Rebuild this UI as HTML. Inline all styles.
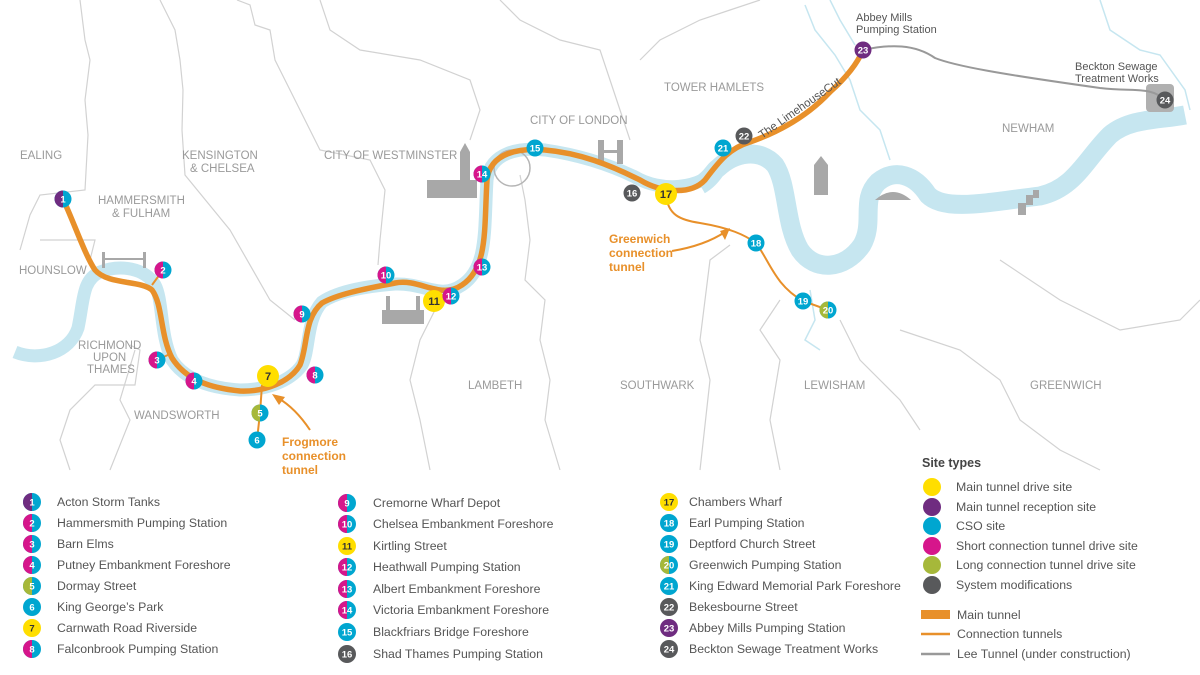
<!DOCTYPE html>
<html><head><meta charset="utf-8"><style>
html,body{margin:0;padding:0;background:#fff}
svg{display:block;font-family:"Liberation Sans",sans-serif}
.b{fill:#9a9a9a;font-size:11.5px}
.m text{fill:#fff;font-size:9.5px;font-weight:bold;text-anchor:middle}
.m text.d{fill:#333}
.l{fill:#555;font-size:12.3px}
.o{fill:#e8902a;font-size:12px;font-weight:bold}
</style></head><body>
<svg width="1200" height="675" viewBox="0 0 1200 675">
<g fill="none" stroke="#d2d2d2" stroke-width="1.2">
<path d="M80,0 L85,40 L90,60 L85,100 L88,135 L85,190 L40,195 L30,215 L20,250"/>
<path d="M40,240 L95,240 L90,260"/>
<path d="M160,0 L175,30 L180,60 L183,90 L182,130 L185,175 L230,230 L270,300 L295,320"/>
<path d="M237,0 L250,5 L255,25 L270,30 L275,60 L290,90 L305,120 L320,150 L370,160 L385,190 L380,240 L378,265"/>
<path d="M130,345 L140,350 L135,385 L95,385 L70,410 L60,440 L70,470"/>
<path d="M135,350 L120,400 L130,420 L110,470"/>
<path d="M320,0 L330,30 L360,50 L420,60 L470,80 L480,110 L470,140"/>
<path d="M500,0 L520,20 L560,40 L600,50 L610,80 L620,110 L630,140"/>
<path d="M520,175 L525,200 L530,240 L525,280 L545,300 L540,340 L550,380 L545,420 L560,470"/>
<path d="M435,310 L420,340 L410,380 L420,420 L430,470"/>
<path d="M730,245 L710,260 L705,300 L700,340 L710,380 L700,470"/>
<path d="M780,300 L760,330 L780,360 L770,420 L780,470"/>
<path d="M840,320 L860,360 L900,400 L920,430"/>
<path d="M1000,260 L1060,300 L1120,330 L1180,320 L1200,300"/>
<path d="M640,60 L660,40 L700,20 L730,10 L760,0"/>
<path d="M900,330 L960,350 L1000,380 L1020,420 L1060,450 L1100,470"/>
</g>
<g fill="none" stroke="#c6e6f0" stroke-width="1.5">
<path d="M805,5 L815,30 L835,55 L850,80 L860,110 L880,130 L890,160"/>
<path d="M830,0 L840,20 L855,45"/>
<path d="M1100,0 L1110,30 L1140,50 L1160,55 L1185,90 L1190,110"/>
<path d="M810,290 L815,320 L805,340 L820,350"/>
</g>
<path d="M15,352 C40,362 70,352 78,328 C84,300 82,280 100,272 C120,264 145,268 155,285 C163,300 160,335 172,360 C185,380 210,388 240,390 C265,390 290,382 302,365 C310,350 306,320 322,302 C340,290 370,286 395,284 C425,283 440,300 462,285 C488,268 484,230 487,180 C490,152 520,147 545,150 C580,155 610,165 635,177 C660,192 700,190 718,168" fill="none" stroke="#c6e6f0" stroke-width="13" stroke-linejoin="round"/>
<path d="M700,185 C712,178 714,170 718,168 C735,152 760,148 775,165 C788,185 785,225 800,250 C815,272 845,270 862,245 C875,222 860,200 878,182 C895,168 915,175 928,195 C945,212 990,202 1040,196 C1075,188 1085,160 1110,135 C1130,118 1160,120 1185,115" fill="none" stroke="#c6e6f0" stroke-width="19" stroke-linejoin="round"/>
<g fill="#a8a8a8">
<rect x="427" y="180" width="50" height="18"/><rect x="460" y="152" width="10" height="46"/><polygon points="460,152 465,143 470,152"/>
<rect x="382" y="310" width="42" height="14"/><rect x="386" y="296" width="4" height="16"/><rect x="416" y="296" width="4" height="16"/>
<rect x="814" y="165" width="14" height="30"/><polygon points="814,165 821,156 828,165"/>
<path d="M875,200 Q893,184 911,200 Z"/>
<rect x="1018" y="203" width="8" height="12"/><rect x="1026" y="195" width="7" height="10"/><rect x="1033" y="190" width="6" height="8"/>
<rect x="1146" y="84" width="28" height="28" rx="4" fill="#b0b0b0"/>
<rect x="598" y="140" width="6" height="24"/><rect x="617" y="140" width="6" height="24"/><rect x="598" y="150" width="25" height="3"/>
<rect x="102" y="252" width="3" height="16"/><rect x="143" y="252" width="3" height="16"/><rect x="102" y="258" width="44" height="2"/>
</g>
<circle cx="512" cy="168" r="18" fill="none" stroke="#b5b5b5" stroke-width="1.5"/>
<g class="b">
<text x="20" y="159">EALING</text>
<text x="98" y="204">HAMMERSMITH</text><text x="112" y="217">&amp; FULHAM</text>
<text x="182" y="159">KENSINGTON</text><text x="190" y="172">&amp; CHELSEA</text>
<text x="324" y="159">CITY OF WESTMINSTER</text>
<text x="530" y="124">CITY OF LONDON</text>
<text x="664" y="91">TOWER HAMLETS</text>
<text x="1002" y="132">NEWHAM</text>
<text x="19" y="274">HOUNSLOW</text>
<text x="78" y="349">RICHMOND</text><text x="93" y="361">UPON</text><text x="87" y="373">THAMES</text>
<text x="134" y="419">WANDSWORTH</text>
<text x="468" y="389">LAMBETH</text>
<text x="620" y="389">SOUTHWARK</text>
<text x="804" y="389">LEWISHAM</text>
<text x="1030" y="389">GREENWICH</text>
</g>
<path d="M863,50 C890,44 915,44 935,58 C955,66 1000,74 1100,88 C1135,92 1150,86 1165,100" fill="none" stroke="#999" stroke-width="2"/>
<g fill="none" stroke="#e8902a" stroke-width="2">
<path d="M262,385 L260,413 L257,440"/>
<path d="M666,195 C668,215 680,220 700,223 C730,228 745,235 756,243 C770,262 775,285 803,301 L828,310"/>
<path d="M152,285 L163,270"/><path d="M157,360 L170,354"/>
</g>
<g fill="none" stroke="#e8902a" stroke-width="2">
<path d="M310,430 C300,415 290,405 278,398"/>
<path d="M672,251 C690,248 710,242 725,232"/>
</g>
<polygon points="272,394 285,397 279,405" fill="#e8902a"/>
<polygon points="730,228 720,231 725,240" fill="#e8902a"/>
<path d="M63,199 C75,225 85,255 95,270 C108,285 140,280 152,290 C163,305 160,335 172,358 C186,380 210,388 240,391 C265,392 290,382 300,365 C308,345 304,318 322,303 C340,293 370,288 395,283 C420,278 440,300 462,285 C488,268 484,230 487,180 C490,152 520,148 545,150 C580,153 610,165 640,180 C660,192 690,196 705,180 C720,160 730,148 750,142 C790,128 815,108 830,92 C848,76 858,62 863,50" fill="none" stroke="#e8902a" stroke-width="5.5" stroke-linejoin="round" stroke-linecap="round"/>
<text transform="translate(762,139) rotate(-35)" style="fill:#555;font-size:11.5px">The LimehouseCut</text>
<g class="o">
<text x="282" y="446">Frogmore</text><text x="282" y="460">connection</text><text x="282" y="474">tunnel</text>
<text x="609" y="243">Greenwich</text><text x="609" y="257">connection</text><text x="609" y="271">tunnel</text>
</g>
<g style="fill:#555;font-size:11px">
<text x="856" y="21">Abbey Mills</text><text x="856" y="33">Pumping Station</text>
<text x="1075" y="70">Beckton Sewage</text><text x="1075" y="82">Treatment Works</text>
</g>
<g class="m">
<g transform="translate(63,199)"><circle r="8.5" fill="#00a6d0"/><path d="M0,-8.5A8.5,8.5 0 0,0 0,8.5Z" fill="#6f2c80"/><text y="3.5">1</text></g>
<g transform="translate(163,270)"><circle r="8.5" fill="#00a6d0"/><path d="M0,-8.5A8.5,8.5 0 0,0 0,8.5Z" fill="#d6168b"/><text y="3.5">2</text></g>
<g transform="translate(157,360)"><circle r="8.5" fill="#00a6d0"/><path d="M0,-8.5A8.5,8.5 0 0,0 0,8.5Z" fill="#d6168b"/><text y="3.5">3</text></g>
<g transform="translate(194,381)"><circle r="8.5" fill="#00a6d0"/><path d="M0,-8.5A8.5,8.5 0 0,0 0,8.5Z" fill="#d6168b"/><text y="3.5">4</text></g>
<g transform="translate(260,413)"><circle r="8.5" fill="#00a6d0"/><path d="M0,-8.5A8.5,8.5 0 0,0 0,8.5Z" fill="#a6b83a"/><text y="3.5">5</text></g>
<g transform="translate(257,440)"><circle r="8.5" fill="#00a6d0"/><text y="3.5">6</text></g>
<g transform="translate(268,376)"><circle r="11" fill="#ffde00"/><text class="d" y="4" style="font-size:11px">7</text></g>
<g transform="translate(315,375)"><circle r="8.5" fill="#00a6d0"/><path d="M0,-8.5A8.5,8.5 0 0,0 0,8.5Z" fill="#d6168b"/><text y="3.5">8</text></g>
<g transform="translate(302,314)"><circle r="8.5" fill="#00a6d0"/><path d="M0,-8.5A8.5,8.5 0 0,0 0,8.5Z" fill="#d6168b"/><text y="3.5">9</text></g>
<g transform="translate(386,275)"><circle r="8.5" fill="#00a6d0"/><path d="M0,-8.5A8.5,8.5 0 0,0 0,8.5Z" fill="#d6168b"/><text y="3.5">10</text></g>
<g transform="translate(434,301)"><circle r="11" fill="#ffde00"/><text class="d" y="4" style="font-size:11px">11</text></g>
<g transform="translate(451,296)"><circle r="8.5" fill="#00a6d0"/><path d="M0,-8.5A8.5,8.5 0 0,0 0,8.5Z" fill="#d6168b"/><text y="3.5">12</text></g>
<g transform="translate(482,267)"><circle r="8.5" fill="#00a6d0"/><path d="M0,-8.5A8.5,8.5 0 0,0 0,8.5Z" fill="#d6168b"/><text y="3.5">13</text></g>
<g transform="translate(482,174)"><circle r="8.5" fill="#00a6d0"/><path d="M0,-8.5A8.5,8.5 0 0,0 0,8.5Z" fill="#d6168b"/><text y="3.5">14</text></g>
<g transform="translate(535,148)"><circle r="8.5" fill="#00a6d0"/><text y="3.5">15</text></g>
<g transform="translate(632,193)"><circle r="8.5" fill="#58595b"/><text y="3.5">16</text></g>
<g transform="translate(666,194)"><circle r="11" fill="#ffde00"/><text class="d" y="4" style="font-size:11px">17</text></g>
<g transform="translate(756,243)"><circle r="8.5" fill="#00a6d0"/><text y="3.5">18</text></g>
<g transform="translate(803,301)"><circle r="8.5" fill="#00a6d0"/><text y="3.5">19</text></g>
<g transform="translate(828,310)"><circle r="8.5" fill="#00a6d0"/><path d="M0,-8.5A8.5,8.5 0 0,0 0,8.5Z" fill="#a6b83a"/><text y="3.5">20</text></g>
<g transform="translate(723,148)"><circle r="8.5" fill="#00a6d0"/><text y="3.5">21</text></g>
<g transform="translate(744,136)"><circle r="8.5" fill="#58595b"/><text y="3.5">22</text></g>
<g transform="translate(863,50)"><circle r="8.5" fill="#6f2c80"/><text y="3.5">23</text></g>
<g transform="translate(1165,100)"><circle r="8.5" fill="#58595b"/><text y="3.5">24</text></g>
</g>
<g class="m">
<g transform="translate(32,502)"><circle r="9" fill="#00a6d0"/><path d="M0,-9A9,9 0 0,0 0,9Z" fill="#6f2c80"/><text y="3.5">1</text></g>
<g transform="translate(32,523)"><circle r="9" fill="#00a6d0"/><path d="M0,-9A9,9 0 0,0 0,9Z" fill="#d6168b"/><text y="3.5">2</text></g>
<g transform="translate(32,544)"><circle r="9" fill="#00a6d0"/><path d="M0,-9A9,9 0 0,0 0,9Z" fill="#d6168b"/><text y="3.5">3</text></g>
<g transform="translate(32,565)"><circle r="9" fill="#00a6d0"/><path d="M0,-9A9,9 0 0,0 0,9Z" fill="#d6168b"/><text y="3.5">4</text></g>
<g transform="translate(32,586)"><circle r="9" fill="#00a6d0"/><path d="M0,-9A9,9 0 0,0 0,9Z" fill="#a6b83a"/><text y="3.5">5</text></g>
<g transform="translate(32,607)"><circle r="9" fill="#00a6d0"/><text y="3.5">6</text></g>
<g transform="translate(32,628)"><circle r="9" fill="#ffde00"/><text class="d" y="3.5">7</text></g>
<g transform="translate(32,649)"><circle r="9" fill="#00a6d0"/><path d="M0,-9A9,9 0 0,0 0,9Z" fill="#d6168b"/><text y="3.5">8</text></g>
<g transform="translate(347,503)"><circle r="9" fill="#00a6d0"/><path d="M0,-9A9,9 0 0,0 0,9Z" fill="#d6168b"/><text y="3.5">9</text></g>
<g transform="translate(347,524)"><circle r="9" fill="#00a6d0"/><path d="M0,-9A9,9 0 0,0 0,9Z" fill="#d6168b"/><text y="3.5">10</text></g>
<g transform="translate(347,546)"><circle r="9" fill="#ffde00"/><text class="d" y="3.5">11</text></g>
<g transform="translate(347,567)"><circle r="9" fill="#00a6d0"/><path d="M0,-9A9,9 0 0,0 0,9Z" fill="#d6168b"/><text y="3.5">12</text></g>
<g transform="translate(347,589)"><circle r="9" fill="#00a6d0"/><path d="M0,-9A9,9 0 0,0 0,9Z" fill="#d6168b"/><text y="3.5">13</text></g>
<g transform="translate(347,610)"><circle r="9" fill="#00a6d0"/><path d="M0,-9A9,9 0 0,0 0,9Z" fill="#d6168b"/><text y="3.5">14</text></g>
<g transform="translate(347,632)"><circle r="9" fill="#00a6d0"/><text y="3.5">15</text></g>
<g transform="translate(347,654)"><circle r="9" fill="#58595b"/><text y="3.5">16</text></g>
<g transform="translate(669,502)"><circle r="9" fill="#ffde00"/><text class="d" y="3.5">17</text></g>
<g transform="translate(669,523)"><circle r="9" fill="#00a6d0"/><text y="3.5">18</text></g>
<g transform="translate(669,544)"><circle r="9" fill="#00a6d0"/><text y="3.5">19</text></g>
<g transform="translate(669,565)"><circle r="9" fill="#00a6d0"/><path d="M0,-9A9,9 0 0,0 0,9Z" fill="#a6b83a"/><text y="3.5">20</text></g>
<g transform="translate(669,586)"><circle r="9" fill="#00a6d0"/><text y="3.5">21</text></g>
<g transform="translate(669,607)"><circle r="9" fill="#58595b"/><text y="3.5">22</text></g>
<g transform="translate(669,628)"><circle r="9" fill="#6f2c80"/><text y="3.5">23</text></g>
<g transform="translate(669,649)"><circle r="9" fill="#58595b"/><text y="3.5">24</text></g>
</g>
<g class="l">
<text x="57" y="506">Acton Storm Tanks</text>
<text x="57" y="527">Hammersmith Pumping Station</text>
<text x="57" y="548">Barn Elms</text>
<text x="57" y="569">Putney Embankment Foreshore</text>
<text x="57" y="590">Dormay Street</text>
<text x="57" y="611">King George’s Park</text>
<text x="57" y="632">Carnwath Road Riverside</text>
<text x="57" y="653">Falconbrook Pumping Station</text>
<text x="373" y="507">Cremorne Wharf Depot</text>
<text x="373" y="528">Chelsea Embankment Foreshore</text>
<text x="373" y="550">Kirtling Street</text>
<text x="373" y="571">Heathwall Pumping Station</text>
<text x="373" y="593">Albert Embankment Foreshore</text>
<text x="373" y="614">Victoria Embankment Foreshore</text>
<text x="373" y="636">Blackfriars Bridge Foreshore</text>
<text x="373" y="658">Shad Thames Pumping Station</text>
<text x="689" y="506">Chambers Wharf</text>
<text x="689" y="527">Earl Pumping Station</text>
<text x="689" y="548">Deptford Church Street</text>
<text x="689" y="569">Greenwich Pumping Station</text>
<text x="689" y="590">King Edward Memorial Park Foreshore</text>
<text x="689" y="611">Bekesbourne Street</text>
<text x="689" y="632">Abbey Mills Pumping Station</text>
<text x="689" y="653">Beckton Sewage Treatment Works</text>
</g>
<text x="922" y="467" style="fill:#444;font-size:12.5px;font-weight:bold">Site types</text>
<circle cx="932" cy="487" r="9" fill="#ffde00"/>
<circle cx="932" cy="507" r="9" fill="#6f2c80"/>
<circle cx="932" cy="526" r="9" fill="#00a6d0"/>
<circle cx="932" cy="546" r="9" fill="#d6168b"/>
<circle cx="932" cy="565" r="9" fill="#a6b83a"/>
<circle cx="932" cy="585" r="9" fill="#58595b"/>
<rect x="921" y="610" width="29" height="9" fill="#e8902a"/>
<line x1="921" y1="634" x2="950" y2="634" stroke="#e8902a" stroke-width="2.5"/>
<line x1="921" y1="654" x2="950" y2="654" stroke="#999" stroke-width="2.5"/>
<g class="l">
<text x="956" y="491">Main tunnel drive site</text>
<text x="956" y="511">Main tunnel reception site</text>
<text x="956" y="530">CSO site</text>
<text x="956" y="550">Short connection tunnel drive site</text>
<text x="956" y="569">Long connection tunnel drive site</text>
<text x="956" y="589">System modifications</text>
<text x="957" y="619">Main tunnel</text>
<text x="957" y="638">Connection tunnels</text>
<text x="957" y="658">Lee Tunnel (under construction)</text>
</g>
</svg>
</body></html>
